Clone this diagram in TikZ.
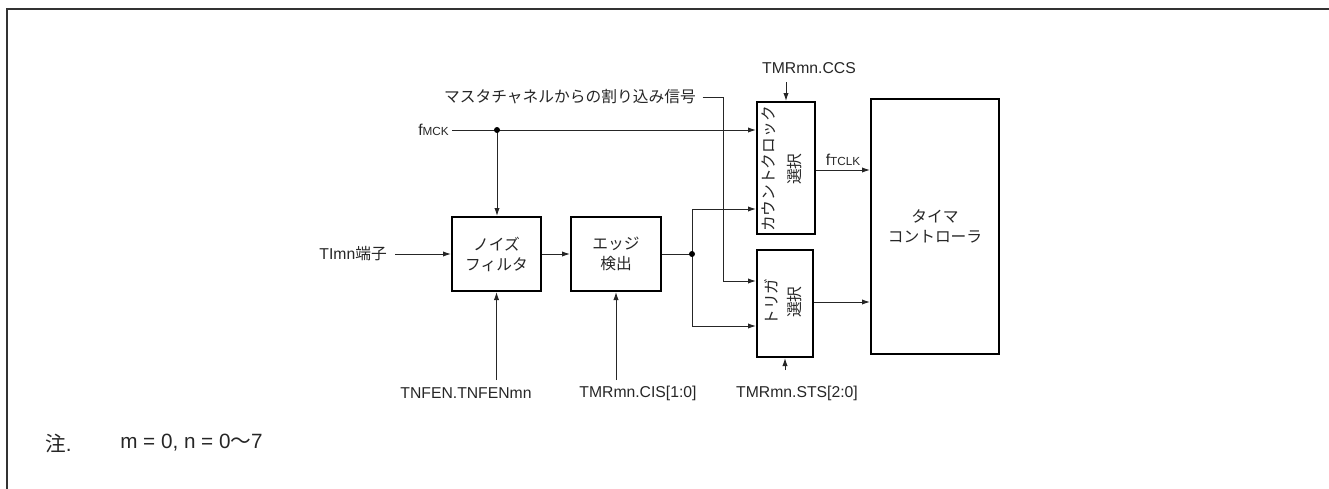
\documentclass[tikz,border=0pt]{standalone}
\usepackage{fontspec}
\setmainfont{Liberation Sans}
\newfontfamily\cjk{Noto Sans CJK JP}
\usetikzlibrary{arrows.meta}
\newcommand{\sml}[1]{{\fontsize{8.8}{10}\selectfont #1}}
\begin{document}
\begin{tikzpicture}[x=0.75pt,y=-0.75pt,
  every node/.style={font=\fontsize{11.8}{14}\selectfont, text=black!85, inner sep=0pt},
  box/.style={draw, line width=1.5pt, align=center, font=\cjk\fontsize{11.8}{15}\selectfont},
  vtext/.style={rotate=90, align=center, font=\cjk\fontsize{11.8}{19.5}\selectfont},
  conn/.style={line width=0.75pt, black!85},
  arr/.style={conn, -{Latex[length=6pt,width=4pt]}},
  dot/.style={circle, fill=black, minimum size=4.5pt, inner sep=0pt},
  note/.style={font=\fontsize{15.5}{18}\selectfont}]
\useasboundingbox (0,0) rectangle (1329,489);
\draw[line width=1.5pt, black!80] (7,489) -- (7,9) -- (1329,9);

% boxes
\node[box, minimum width=66.75pt, minimum height=55.5pt] (nf) at (496.5,254) {ノイズ\\フィルタ};
\node[box, minimum width=67.5pt, minimum height=55.5pt] (ed) at (616,254) {エッジ\\検出};
\node[box, minimum width=43.5pt, minimum height=99pt] (cc) at (786,168) {};
\node[vtext] at (782,169) {カウントクロック\\選択};
\node[box, minimum width=42pt, minimum height=80.25pt] (tg) at (785,303.5) {};
\node[vtext, font=\cjk\fontsize{11.8}{17.25}\selectfont] at (783.5,302) {トリガ\\選択};
\node[box, minimum width=96pt, minimum height=191.25pt] (tc) at (935,226.5) {タイマ\\コントローラ};

% labels
\node[anchor=east] (fmck) at (449,130) {f\sml{MCK}};
\node[anchor=east] (timn) at (387,254) {TImn{\cjk 端子}};
\node[anchor=east, font=\cjk\fontsize{11.8}{14}\selectfont] (mc) at (696,97) {マスタチャネルからの割り込み信号};
\node (ccs) at (809,68) {TMRmn.CCS};
\node (ftclk) at (843,160) {f\sml{TCLK}};
\node (tnfen) at (466,393) {TNFEN.TNFENmn};
\node (cis) at (638,393) {TMRmn.CIS[1:0]};
\node (sts) at (797,393) {TMRmn.STS[2:0]};
\node[anchor=west, note] (chu) at (45,443) {{\cjk 注}.};
\node[anchor=west, note] (mn) at (120,443) {m = 0, n = 0{\cjk 〜}7};

% junctions
\coordinate (j1) at (497,130);
\coordinate (j2) at (692,254);
\coordinate (m1) at (723,97);

% connectors
\draw[conn] ([xshift=2.5pt]fmck.east) -- (j1);
\draw[arr] (j1) -- (j1 -| cc.west);
\draw[arr] (j1) -- (j1 |- nf.north);
\draw[arr] ([xshift=6pt]timn.east) -- (nf.west);
\draw[arr] (nf.east) -- (ed.west);
\draw[conn] (ed.east) -- (j2);
\draw[arr] (j2) |- (cc.west |- 0,209);
\draw[arr] (j2) |- (tg.west |- 0,326);
\draw[arr] ([xshift=5pt]mc.east) -- (m1) -- (m1 |- 0,281) -- (tg.west |- 0,281);
\draw[arr] (cc.north |- 0,82) -- (cc.north);
\draw[arr] (cc.east |- 0,170) -- (tc.west |- 0,170);
\draw[arr] (tg.east |- 0,302) -- (tc.west |- 0,302);
\draw[arr] (tg.south |- 0,370) -- (tg.south);
\draw[arr] (nf.south |- 0,380) -- (nf.south);
\draw[arr] (ed.south |- 0,380) -- (ed.south);
\node[dot] at (j1) {};
\node[dot] at (j2) {};
\end{tikzpicture}
\end{document}
